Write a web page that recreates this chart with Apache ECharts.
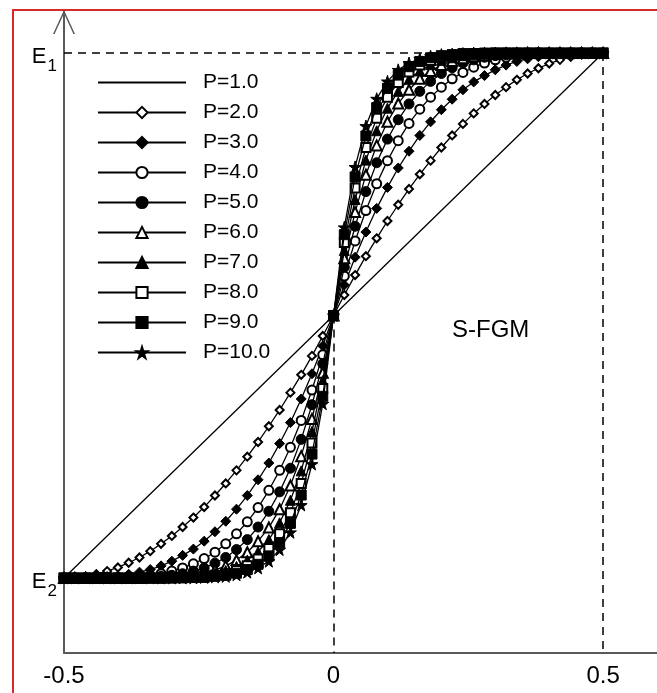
<!DOCTYPE html>
<html>
<head>
<meta charset="utf-8">
<title>S-FGM</title>
<script src="https://cdn.jsdelivr.net/npm/echarts@6.0.0/dist/echarts.min.js"></script>
<style>
  html, body { margin: 0; padding: 0; background: #fff; }
  #chart { width: 657px; height: 693px; }
</style>
</head>
<body>
<div id="chart"></div>
<script>
// z/h across the thickness
const zValues = [-0.5,-0.48,-0.46,-0.44,-0.42,-0.4,-0.38,-0.36,-0.34,-0.32,-0.3,-0.28,-0.26,-0.24,-0.22,-0.2,-0.18,-0.16,-0.14,-0.12,-0.1,-0.08,-0.06,-0.04,-0.02,0,0.02,0.04,0.06,0.08,0.1,0.12,0.14,0.16,0.18,0.2,0.22,0.24,0.26,0.28,0.3,0.32,0.34,0.36,0.38,0.4,0.42,0.44,0.46,0.48,0.5];

const seriesNames = ['P=1.0', 'P=2.0', 'P=3.0', 'P=4.0', 'P=5.0', 'P=6.0', 'P=7.0', 'P=8.0', 'P=9.0', 'P=10.0'];

// modulus, 0 = E2, 1 = E1
const p1 = [0,0.02,0.04,0.06,0.08,0.1,0.12,0.14,0.16,0.18,0.2,0.22,0.24,0.26,0.28,0.3,0.32,0.34,0.36,0.38,0.4,0.42,0.44,0.46,0.48,0.5,0.52,0.54,0.56,0.58,0.6,0.62,0.64,0.66,0.68,0.7,0.72,0.74,0.76,0.78,0.8,0.82,0.84,0.86,0.88,0.9,0.92,0.94,0.96,0.98,1];
const p2 = [0,0.001,0.003,0.007,0.013,0.02,0.029,0.039,0.051,0.065,0.08,0.097,0.115,0.135,0.157,0.18,0.205,0.231,0.259,0.289,0.32,0.353,0.387,0.423,0.461,0.5,0.539,0.577,0.613,0.647,0.68,0.711,0.741,0.769,0.795,0.82,0.843,0.865,0.885,0.903,0.92,0.935,0.949,0.961,0.971,0.98,0.987,0.993,0.997,0.999,1];
const p3 = [0,0,0,0.001,0.002,0.004,0.007,0.011,0.016,0.023,0.032,0.043,0.055,0.07,0.088,0.108,0.131,0.157,0.187,0.219,0.256,0.296,0.341,0.389,0.442,0.5,0.558,0.611,0.659,0.704,0.744,0.781,0.813,0.843,0.869,0.892,0.912,0.93,0.945,0.957,0.968,0.977,0.984,0.989,0.993,0.996,0.998,0.999,1,1,1];
const p4 = [0,0,0,0,0,0.001,0.002,0.003,0.005,0.008,0.013,0.019,0.027,0.037,0.049,0.065,0.084,0.107,0.134,0.167,0.205,0.249,0.3,0.358,0.425,0.5,0.575,0.642,0.7,0.751,0.795,0.833,0.866,0.893,0.916,0.935,0.951,0.963,0.973,0.981,0.987,0.992,0.995,0.997,0.998,0.999,1,1,1,1,1];
const p5 = [0,0,0,0,0,0,0,0.001,0.002,0.003,0.005,0.008,0.013,0.019,0.028,0.039,0.054,0.073,0.097,0.127,0.164,0.209,0.264,0.33,0.408,0.5,0.592,0.67,0.736,0.791,0.836,0.873,0.903,0.927,0.946,0.961,0.972,0.981,0.987,0.992,0.995,0.997,0.998,0.999,1,1,1,1,1,1,1];
const p6 = [0,0,0,0,0,0,0,0,0.001,0.001,0.002,0.004,0.006,0.01,0.015,0.023,0.034,0.049,0.07,0.096,0.131,0.176,0.232,0.303,0.391,0.5,0.609,0.697,0.768,0.824,0.869,0.904,0.93,0.951,0.966,0.977,0.985,0.99,0.994,0.996,0.998,0.999,0.999,1,1,1,1,1,1,1,1];
const p7 = [0,0,0,0,0,0,0,0,0,0,0.001,0.002,0.003,0.005,0.009,0.014,0.022,0.034,0.05,0.073,0.105,0.148,0.204,0.279,0.376,0.5,0.624,0.721,0.796,0.852,0.895,0.927,0.95,0.966,0.978,0.986,0.991,0.995,0.997,0.998,0.999,1,1,1,1,1,1,1,1,1,1];
const p8 = [0,0,0,0,0,0,0,0,0,0,0,0.001,0.001,0.003,0.005,0.008,0.014,0.023,0.036,0.056,0.084,0.124,0.18,0.257,0.361,0.5,0.639,0.743,0.82,0.876,0.916,0.944,0.964,0.977,0.986,0.992,0.995,0.997,0.999,0.999,1,1,1,1,1,1,1,1,1,1,1];
const p9 = [0,0,0,0,0,0,0,0,0,0,0,0,0.001,0.001,0.003,0.005,0.009,0.016,0.026,0.042,0.067,0.104,0.158,0.236,0.346,0.5,0.654,0.764,0.842,0.896,0.933,0.958,0.974,0.984,0.991,0.995,0.997,0.999,0.999,1,1,1,1,1,1,1,1,1,1,1,1];
const p10 = [0,0,0,0,0,0,0,0,0,0,0,0,0,0.001,0.002,0.003,0.006,0.011,0.019,0.032,0.054,0.087,0.139,0.217,0.332,0.5,0.668,0.783,0.861,0.913,0.946,0.968,0.981,0.989,0.994,0.997,0.998,0.999,1,1,1,1,1,1,1,1,1,1,1,1,1];

const curves = [p1, p2, p3, p4, p5, p6, p7, p8, p9, p10];

const xTicks = [-0.5, 0, 0.5];
const yTicks = [0, 1];          // E2, E1
const yTickSub = { 0: '2', 1: '1' };

// dashed guides: E1 level, z = 0.5 and z = 0
const guides = [
  [[-0.5, 1], [0.5, 1]],
  [[0.5, 1], [0.5, -0.143]],
  [[0, 0.5], [0, -0.143]]
];

const star = 'path://M50,0 L61,35 L98,35 L68,57 L79,91 L50,70 L21,91 L32,57 L2,35 L39,35 Z';
const markers = ['none', 'emptyDiamond', 'diamond', 'emptyCircle', 'circle', 'emptyTriangle', 'triangle', 'emptyRect', 'rect', star];
const markerSizes = [0, 8, 10, 9, 10, 10, 10, 9, 10, 12];

const font = '"Liberation Sans", Arial, sans-serif';
const ink = '#000';

const chart = echarts.init(document.getElementById('chart'), null, { renderer: 'canvas' });

const series = curves.map((vals, i) => {
  const s = {
    name: seriesNames[i],
    type: 'line',
    data: zValues.map((z, k) => [z, vals[k]]),
    symbol: markers[i],
    symbolSize: markerSizes[i],
    showSymbol: markers[i] !== 'none',
    showAllSymbol: true,
    lineStyle: { color: '#000', width: 1.3 },
    itemStyle: { color: '#000', borderColor: '#000', borderWidth: 1 },
    emphasis: { disabled: true },
    z: 2 + i
  };
  if (i === 0) {
    s.markLine = {
      silent: true,
      symbol: ['none', 'none'],
      label: { show: false },
      lineStyle: { color: '#000', width: 1.5, type: [8, 6] },
      emphasis: { disabled: true },
      data: guides.map(g => [{ coord: g[0] }, { coord: g[1] }])
    };
  }
  return s;
});

const option = {
  animation: false,
  backgroundColor: '#fff',
  title: {
    text: 'S-FGM',
    left: 447,
    top: 313,
    textStyle: { fontFamily: font, fontSize: 24, fontWeight: 'normal', color: ink }
  },
  legend: {
    orient: 'vertical',
    left: 92,
    top: 67,
    itemWidth: 88,
    itemHeight: 14,
    itemGap: 9,
    selectedMode: false,
    textStyle: { fontFamily: font, fontSize: 21, lineHeight: 21, color: ink, padding: [0, 0, 0, 12] },
    data: seriesNames.map((n, i) => i === 0 ? { name: n, itemStyle: { opacity: 0 } } : n)
  },
  grid: { left: 64, right: 0, top: 10, bottom: 40, outerBoundsMode: 'none' },
  xAxis: {
    type: 'value',
    min: -0.5,
    max: 0.6,
    interval: 0.5,
    axisLine: { onZero: false, lineStyle: { color: '#5a5a5a', width: 2 } },
    axisTick: { show: false },
    splitLine: { show: false },
    axisLabel: {
      customValues: xTicks,
      formatter: v => String(v),
      fontFamily: font,
      fontSize: 24,
      color: ink,
      margin: 11
    }
  },
  yAxis: {
    type: 'value',
    min: -0.143,
    max: 1.082,
    axisLine: {
      show: true,
      onZero: false,
      lineStyle: { color: '#5a5a5a', width: 2 },
      symbol: ['none', 'path://M0,24 L11,0 L22,24 L20.4,24 L11,3.4 L1.6,24 Z'],
      symbolSize: [22, 24],
      symbolOffset: [0, -12]
    },
    axisTick: { show: false },
    splitLine: { show: false },
    axisLabel: {
      customValues: yTicks,
      margin: 7,
      formatter: v => '{e|E}{s|' + yTickSub[v] + '}',
      rich: {
        e: { fontFamily: font, fontSize: 22, color: ink, padding: [8, 0, 0, 0] },
        s: { fontFamily: font, fontSize: 17, color: ink, padding: [26, 0, 0, 1] }
      }
    }
  },
  graphic: [{
    type: 'rect',
    silent: true,
    shape: { x: 13, y: 10, width: 700, height: 700 },
    style: { fill: 'none', stroke: '#d42a2a', lineWidth: 2 },
    z: 100
  }],
  series: series
};

chart.setOption(option);
</script>
</body>
</html>
